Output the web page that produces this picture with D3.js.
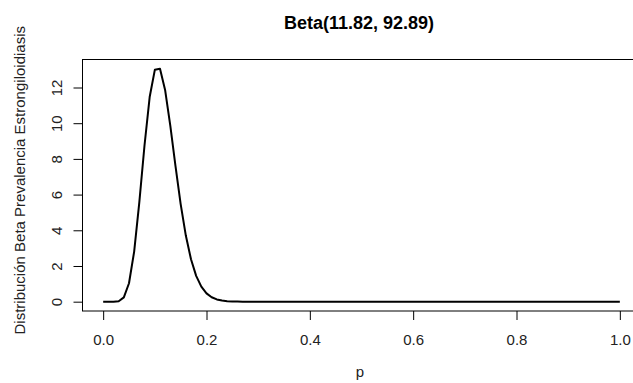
<!DOCTYPE html>
<html lang="es">
<head>
<meta charset="UTF-8">
<title>Beta(11.82, 92.89)</title>
<script src="https://d3js.org/d3.v7.min.js"></script>
<style>
  body { margin: 0; background: #fff; }
  text { font-family: "Liberation Sans", Arial, sans-serif; }
</style>
</head>
<body>
<script>
    // valores de p (eje x) y densidad
    const pValues = [
        0.00, 0.01, 0.02, 0.03, 0.04, 0.05, 0.06, 0.07, 0.08, 0.09,
        0.10, 0.11, 0.12, 0.13, 0.14, 0.15, 0.16, 0.17, 0.18, 0.19,
        0.20, 0.21, 0.22, 0.23, 0.24, 0.25, 0.26, 0.27, 0.28, 0.29,
        0.30, 0.31, 0.32, 0.33, 0.34, 0.35, 0.36, 0.37, 0.38, 0.39,
        0.40, 0.41, 0.42, 0.43, 0.44, 0.45, 0.46, 0.47, 0.48, 0.49,
        0.50, 0.51, 0.52, 0.53, 0.54, 0.55, 0.56, 0.57, 0.58, 0.59,
        0.60, 0.61, 0.62, 0.63, 0.64, 0.65, 0.66, 0.67, 0.68, 0.69,
        0.70, 0.71, 0.72, 0.73, 0.74, 0.75, 0.76, 0.77, 0.78, 0.79,
        0.80, 0.81, 0.82, 0.83, 0.84, 0.85, 0.86, 0.87, 0.88, 0.89,
        0.90, 0.91, 0.92, 0.93, 0.94, 0.95, 0.96, 0.97, 0.98, 0.99,
        1.00
    ];
    const densidad = [
        0, 0, 0.001, 0.028, 0.242, 1.033, 2.809, 5.573, 8.752, 11.466,
        12.989, 13.047, 11.843, 9.851, 7.592, 5.468, 3.705, 2.375, 1.448, 0.841,
        0.468, 0.250, 0.128, 0.063, 0.030, 0.014, 0.006, 0.003, 0.001, 0,
        0, 0, 0, 0, 0, 0, 0, 0, 0, 0,
        0, 0, 0, 0, 0, 0, 0, 0, 0, 0,
        0, 0, 0, 0, 0, 0, 0, 0, 0, 0,
        0, 0, 0, 0, 0, 0, 0, 0, 0, 0,
        0, 0, 0, 0, 0, 0, 0, 0, 0, 0,
        0, 0, 0, 0, 0, 0, 0, 0, 0, 0,
        0, 0, 0, 0, 0, 0, 0, 0, 0, 0,
        0
    ];
    const xTicks = [0, 0.2, 0.4, 0.6, 0.8, 1.0];
    const yTicks = [0, 2, 4, 6, 8, 10, 12];
    const titulo = "Beta(11.82, 92.89)";
    const xLabel = "p";
    const yLabel = "Distribución Beta Prevalencia Estrongiloidiasis";

    const W = 633, H = 383;
    const box = { left: 82.5, right: 640.5, top: 59.5, bottom: 311 };

    let svg = d3.select("body").append("svg")
        .attr("width", W)
        .attr("height", H);

    // dominio extendido 4% como en R
    const xExt = d3.extent(pValues), yExt = d3.extent(densidad);
    const xPad = (xExt[1] - xExt[0]) * 0.04, yPad = (yExt[1] - yExt[0]) * 0.04;

    let x = d3.scaleLinear()
        .domain([xExt[0] - xPad, xExt[1] + xPad])
        .range([box.left, box.right]);
    let y = d3.scaleLinear()
        .domain([yExt[0] - yPad, yExt[1] + yPad])
        .range([box.bottom, box.top]);

    // caja del grafico
    svg.append("rect")
        .attr("x", box.left)
        .attr("y", box.top)
        .attr("width", box.right - box.left)
        .attr("height", box.bottom - box.top)
        .attr("fill", "none")
        .attr("stroke", "#000")
        .attr("stroke-width", 1);

    // eje x
    let gx = svg.append("g")
        .attr("transform", `translate(0,${box.bottom})`)
        .call(d3.axisBottom(x).tickValues(xTicks).tickSize(9).tickFormat(d3.format(".1f")));
    gx.select(".domain").remove();
    gx.selectAll("line").attr("stroke", "#000");
    gx.selectAll("text")
        .attr("y", 33.5)
        .attr("dy", null)
        .attr("fill", "#222")
        .style("font-size", "15px");

    // eje y
    let gy = svg.append("g")
        .attr("transform", `translate(${box.left},0)`)
        .call(d3.axisLeft(y).tickValues(yTicks).tickSize(9));
    gy.select(".domain").remove();
    gy.selectAll("line").attr("stroke", "#000");
    gy.selectAll("text")
        .attr("x", null)
        .attr("dy", null)
        .attr("transform", "translate(-21,0) rotate(-90)")
        .attr("text-anchor", "middle")
        .attr("fill", "#222")
        .style("font-size", "15px");

    // curva de densidad
    let puntos = pValues.map((p, i) => [p, densidad[i]]);
    svg.append("path")
        .datum(puntos)
        .attr("fill", "none")
        .attr("stroke", "#000")
        .attr("stroke-width", 2)
        .attr("stroke-linejoin", "round")
        .attr("d", d3.line().x(d => x(d[0])).y(d => y(d[1])));

    // titulo y etiquetas
    svg.append("text")
        .attr("x", 359)
        .attr("y", 28.5)
        .attr("text-anchor", "middle")
        .attr("font-weight", "bold")
        .attr("fill", "#000")
        .style("font-size", "18px")
        .text(titulo);

    svg.append("text")
        .attr("x", 360)
        .attr("y", 377)
        .attr("text-anchor", "middle")
        .attr("fill", "#222")
        .style("font-size", "15px")
        .text(xLabel);

    svg.append("text")
        .attr("transform", `translate(25,${(box.top + box.bottom) / 2 - 5}) rotate(-90)`)
        .attr("text-anchor", "middle")
        .attr("fill", "#222")
        .style("font-size", "15px")
        .text(yLabel);
</script>
</body>
</html>
